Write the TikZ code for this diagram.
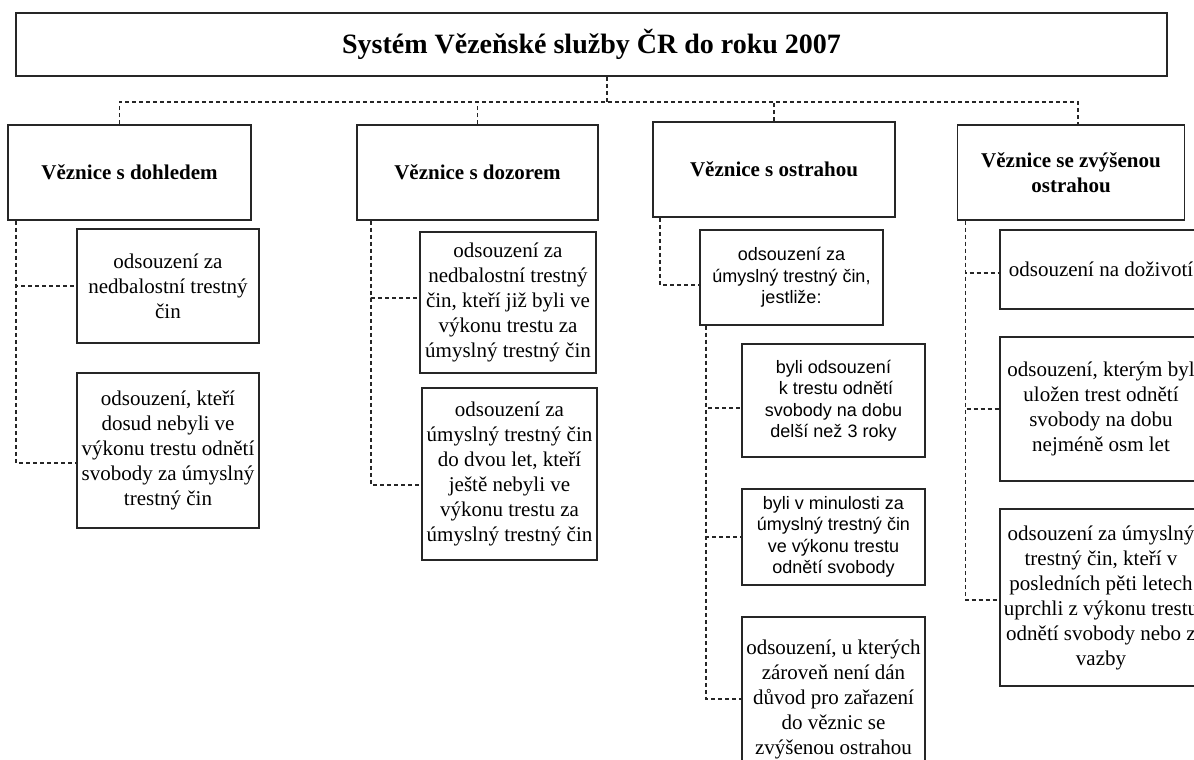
\documentclass[tikz,border=0pt]{standalone}
\usepackage{fontspec}
\setmainfont{Liberation Serif}
\setsansfont{Liberation Sans}
\usetikzlibrary{calc}

\tikzset{
  box/.style={draw=black!85, line width=1.8pt, inner sep=0pt, align=center, fill=white},
  conn/.style={draw=black!85, line width=1.6pt, dash pattern=on 4pt off 3pt},
  titlefont/.style={font=\bfseries\fontsize{28}{32}\selectfont},
  headfont/.style={font=\bfseries\fontsize{21}{25}\selectfont},
  serif/.style={font=\fontsize{21}{25}\selectfont},
  sans/.style={font=\sffamily\fontsize{18}{21.5}\selectfont},
}

\begin{document}
\begin{tikzpicture}[x=1pt, y=-1pt]
 \fill[white] (0,0) rectangle (1194,760);
 \useasboundingbox (0,0) rectangle (1194,760);
 \clip (0,0) rectangle (1194,760);

 \node[box, titlefont, minimum width=1151pt, minimum height=63pt] (title) at (591.5,44.5) {Systém Vězeňské služby ČR do roku 2007};

 % druhy veznic
 \begin{scope}[every node/.append style={box, headfont, minimum height=95pt}]
 \node[minimum width=243pt] (h1) at (129.5,172.5) {Věznice s dohledem};
 \node[minimum width=241pt] (h2) at (477.5,172.5) {Věznice s dozorem};
 \node[minimum width=242pt] (h3) at (774,169.5) {Věznice s ostrahou};
 \node[minimum width=227pt] (h4) at (1071,172.5) {Věznice se zvýšenou\\ostrahou};
 \end{scope}

 % dohled
 \node[box, serif, minimum width=182pt, minimum height=114pt] (s1a) at (168,286) {odsouzení za\\nedbalostní trestný\\čin};
 \node[box, serif, minimum width=182pt, minimum height=155pt] (s1b) at (168,450.5) {odsouzení, kteří\\dosud nebyli ve\\výkonu trestu odnětí\\svobody za úmyslný\\trestný čin};

 % dozor
 \node[box, serif, minimum width=176pt, minimum height=141pt] (s2a) at (508,302.5) {odsouzení za\\nedbalostní trestný\\čin, kteří již byli ve\\výkonu trestu za\\úmyslný trestný čin};
 \node[box, serif, minimum width=175pt, minimum height=172pt] (s2b) at (509.5,474) {odsouzení za\\úmyslný trestný čin\\do dvou let, kteří\\ještě nebyli ve\\výkonu trestu za\\úmyslný trestný čin};

 % ostraha
 \node[box, sans, minimum width=183pt, minimum height=95pt] (s3) at (791.5,277.5) {odsouzení za\\úmyslný trestný čin,\\jestliže:};
 \node[box, sans, minimum width=183pt, minimum height=113pt] (s3a) at (833.5,400.5) {byli odsouzení\\\ k trestu odnětí\\svobody na dobu\\delší než 3 roky};
 \node[box, sans, minimum width=183pt, minimum height=96pt] (s3b) at (833.5,537) {byli v minulosti za\\úmyslný trestný čin\\ve výkonu trestu\\odnětí svobody};
 \node[box, serif, minimum width=183pt, minimum height=164pt] (s3c) at (833.5,699) {odsouzení, u kterých\\zároveň není dán\\důvod pro zařazení\\do věznic se\\zvýšenou ostrahou};

 % zvysena ostraha
 \node[box, serif, minimum width=202pt, minimum height=79pt] (s4a) at (1101,269.5) {odsouzení na doživotí};
 \node[box, serif, minimum width=202pt, minimum height=144pt] (s4b) at (1101,409) {odsouzení, kterým byl\\uložen trest odnětí\\svobody na dobu\\nejméně osm let};
 \node[box, serif, minimum width=202pt, minimum height=177pt] (s4c) at (1101,597.5) {odsouzení za úmyslný\\trestný čin, kteří v\\posledních pěti letech\\uprchli z výkonu trestu\\odnětí svobody nebo z\\vazby};

 % spojnice
 \coordinate (bus) at (607,102);
 \draw[conn] (title.south -| bus) -- (bus);
 \draw[conn] ([xshift=-10pt]h1.north) |- (bus) -| ([xshift=7pt]h4.north);
 \draw[conn] (h2.north) -- (h2.north |- bus);
 \draw[conn] (h3.north) -- (h3.north |- bus);

 \draw[conn] ([xshift=9pt]h1.south west) |- (s1a.west);
 \draw[conn] ([xshift=9pt]h1.south west) |- ([yshift=-12.5pt]s1b.west);

 \draw[conn] ([xshift=15pt]h2.south west) |- ([yshift=4.5pt]s2a.west);
 \draw[conn] ([xshift=15pt]h2.south west) |- ([yshift=-11pt]s2b.west);

 \draw[conn] ([xshift=8pt]h3.south west) |- ([yshift=-7.5pt]s3.west);
 \draw[conn] ([xshift=7pt]s3.south west) |- ([yshift=-7.5pt]s3a.west);
 \draw[conn] ([xshift=7pt]s3.south west) |- (s3b.west);
 \draw[conn] ([xshift=7pt]s3.south west) |- (s3c.west);

 \draw[conn] ([xshift=9pt]h4.south west) |- ([yshift=-3.5pt]s4a.west);
 \draw[conn] ([xshift=9pt]h4.south west) |- (s4b.west);
 \draw[conn] ([xshift=9pt]h4.south west) |- ([yshift=-2.5pt]s4c.west);
\end{tikzpicture}
\end{document}
